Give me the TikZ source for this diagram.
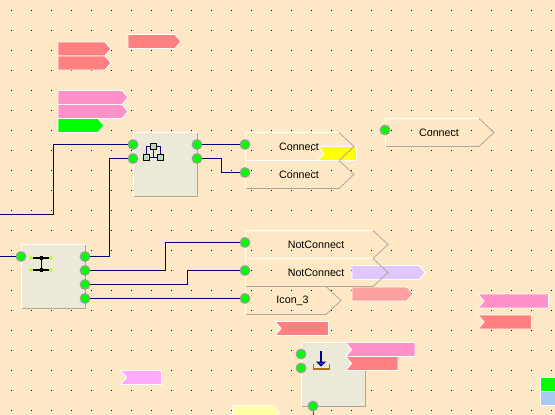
\documentclass[tikz,border=0pt]{standalone}
\usepackage{fontspec}
\setmainfont{Liberation Sans}
\definecolor{sheet}{HTML}{FFE8C5}
\definecolor{blockfill}{HTML}{ECE9D8}
\definecolor{edgegray}{HTML}{A8A8A0}
\definecolor{pingray}{HTML}{9C9C9C}
\definecolor{wireblue}{HTML}{000080}
\definecolor{pinlime}{HTML}{00FF00}
\definecolor{barlime}{HTML}{AAFF00}
\definecolor{tagred}{HTML}{FF8080}
\definecolor{tagpink}{HTML}{FF91C8}
\definecolor{taglilac}{HTML}{E0C8FF}
\definecolor{tagsalmon}{HTML}{FFA0A0}
\definecolor{tagviolet}{HTML}{FFAAFF}
\definecolor{tagyellow}{HTML}{FFFFA8}
\definecolor{tagbright}{HTML}{FFFF00}
\definecolor{sqblue}{HTML}{A6CAF0}
\definecolor{traybrown}{HTML}{B07010}
\definecolor{treegreen}{HTML}{C0D8C0}
\tikzset{
  pin/.style={circle, inner sep=0pt, minimum size=9.6pt, fill=pinlime, draw=pingray, line width=1.2pt},
  wire/.style={draw=wireblue, line width=1pt},
  tagbox/.style={draw=white, line width=0.9pt, line join=miter},
  icontext/.style={font=\fontsize{10.7}{12}\selectfont, text=black, inner sep=0pt}
}
% tag pointing right: colour, x, y, length up to the shoulder
\newcommand{\tagright}[4]{\draw[tagbox, fill=#1] (#2,#3) -- ++(#4,0) -- ++(6,7) -- ++(-6,7) -- ++(-#4,0) -- cycle;}
% tag with a notch on the left: colour, x, y, width
\newcommand{\tagflag}[4]{\draw[tagbox, fill=#1] (#2,#3) -- ++(#4,0) -- ++(0,14) -- ++(-#4,0) -- ++(6,-7) -- cycle;}
% grey block: name, x, y
\newcommand{\blockbox}[3]{
  \fill[blockfill] (#2,#3) rectangle ++(64,64);
  \draw[edgegray, line width=1pt] (#2+64,#3) -- ++(0,64) -- ++(-64,0);
  \draw[white, line width=1pt] (#2,#3+64) -- (#2,#3) -- ++(64,0);
  \coordinate (#1) at (#2,#3);
}
% outlined label: name, x, y, length up to the shoulder, text
\newcommand{\iconbox}[5]{
  \draw[edgegray, line width=0.8pt] (#2+#4,#3) -- ++(15,14) -- ++(-15,14) -- ++(-#4,0);
  \draw[white, line width=1pt] (#2,#3+28) -- (#2,#3) -- ++(#4,0);
  \node[icontext] (#1) at ({#2+(#4+15)/2-0.7},#3+14) {#5};
}
\begin{document}
\begin{tikzpicture}[x=1pt, y=-1pt]
\useasboundingbox (0,0) rectangle (555,415);
\clip (0,0) rectangle (555,415);
\fill[sheet] (0,0) rectangle (555,415);
\foreach \i in {0,...,27} \foreach \j in {0,...,20}
  \fill[black] (11+20*\i,10+20*\j) rectangle ++(1,1);

% blocks
\blockbox{hier}{133.5}{132.5}
\blockbox{merge}{21.5}{244.5}
\blockbox{store}{301.5}{342.5}

% tags
\tagright{tagred}{58}{42}{47}
\tagright{tagred}{58}{56}{47}
\tagright{tagred}{128}{34.5}{47}
\tagright{tagpink}{58}{90.5}{64}
\tagright{tagpink}{58}{104.5}{64}
\tagright{pinlime}{58}{118.5}{40}
\tagflag{tagbright}{318}{146.5}{38.5}
\tagright{taglilac}{352}{265.5}{67}
\tagright{tagsalmon}{352}{287}{55}
\tagflag{tagred}{275}{321.5}{53.5}
\tagflag{tagpink}{478}{294}{70.5}
\tagflag{tagred}{478}{315}{53.5}
\tagflag{tagpink}{345.5}{342.5}{69.5}
\tagflag{tagred}{345.5}{356.5}{52.5}
\tagflag{tagviolet}{120.5}{370.5}{41}
\tagright{tagyellow}{232.5}{405.5}{41}
\fill[pinlime] (541,378) rectangle (556,391.5);
\fill[sqblue] (541,392) rectangle (556,405.5);
\draw[white, line width=0.9pt] (556,377.5) -- (540.5,377.5) -- (540.5,405.5) -- (556,405.5) (540.5,391.7) -- (556,391.7);

% labels
\iconbox{con1}{245.5}{132.5}{93.5}{Connect}
\iconbox{con2}{245.5}{160.5}{93.5}{Connect}
\iconbox{con3}{385.5}{118.5}{93.5}{Connect}
\iconbox{ico3}{245.5}{286.5}{80.5}{Icon\_3}
\iconbox{not1}{245.5}{230.5}{127.5}{NotConnect}
\iconbox{not2}{245.5}{258.5}{127.5}{NotConnect}

% pins
\node[pin] (hl1) at (133,144.5) {};
\node[pin] (hl2) at (133,158.5) {};
\node[pin] (hr1) at (197,144.5) {};
\node[pin] (hr2) at (197,158.5) {};
\node[pin] (ml1) at (21,256.5) {};
\foreach \n/\y in {mr1/256.5,mr2/270.5,mr3/284.5,mr4/298.5}
  \node[pin] (\n) at (85,\y) {};
\node[pin] (c1) at (245,144.5) {};
\node[pin] (c2) at (245,172.5) {};
\node[pin] (c3) at (385,130) {};
\node[pin] (n1) at (245,242.5) {};
\node[pin] (n2) at (245,270.5) {};
\node[pin] (i3) at (245,298.5) {};
\node[pin] (sl1) at (301,354) {};
\node[pin] (sl2) at (301,368) {};
\node[pin] (sb) at (313,406) {};
\coordinate (in1) at (0,214.5);
\coordinate (in2) at (0,256.5);
\coordinate (outr) at (313.5,416);

% wires
\draw[wire] (in1) -- (53.5,214.5) |- (hl1);
\draw[wire] (in2) -- (ml1);
\draw[wire] (mr1) -- ++(24.5,0) |- (hl2);
\draw[wire] (hr1) -- (c1);
\draw[wire] (hr2) -- ++(24.5,0) |- (c2);
\draw[wire] (mr2) -- ++(80.5,0) |- (n1);
\draw[wire] (mr3) -- ++(102.5,0) |- (n2);
\draw[wire] (mr4) -- (i3);
\draw[red, line width=1pt] (sb) -- (outr);

% tree icon
\draw[wireblue!80!violet, line width=0.9pt] (146.5,157) -- (146.5,146.5) -- (160.5,146.5) -- (160.5,157) (153.5,146.5) -- (153.5,157.5) (146.5,157.5) -- (160.5,157.5);
\foreach \x/\y in {153.5/146.5,146.5/157.5,160.5/157.5}
  \draw[black, fill=treegreen, line width=0.9pt] (\x-3,\y-3) rectangle (\x+3,\y+3);

% bar icon
\draw[black, line width=1.9pt] (33,258) -- (49,258) (33,270) -- (49,270);
\draw[black, line width=1pt] (41.5,258) -- (41.5,270);
\foreach \y in {258,270} {
  \fill[black] (40,\y-2) rectangle (43,\y+2);
  \fill[barlime] (31,\y) circle (1.9);
  \fill[barlime] (51,\y) circle (1.9);
}

% tray icon
\draw[traybrown, line width=1.8pt] (313.5,364) -- (313.5,369) -- (329.5,369) -- (329.5,364);
\fill[wireblue] (316,361.5) -- (326,361.5) -- (321,366.5) -- cycle;
\fill[blue!85!white] (318.5,362.5) -- (323.5,362.5) -- (321,365) -- cycle;
\draw[wireblue, line width=1.6pt] (321,351) -- (321,362);
\end{tikzpicture}
\end{document}
